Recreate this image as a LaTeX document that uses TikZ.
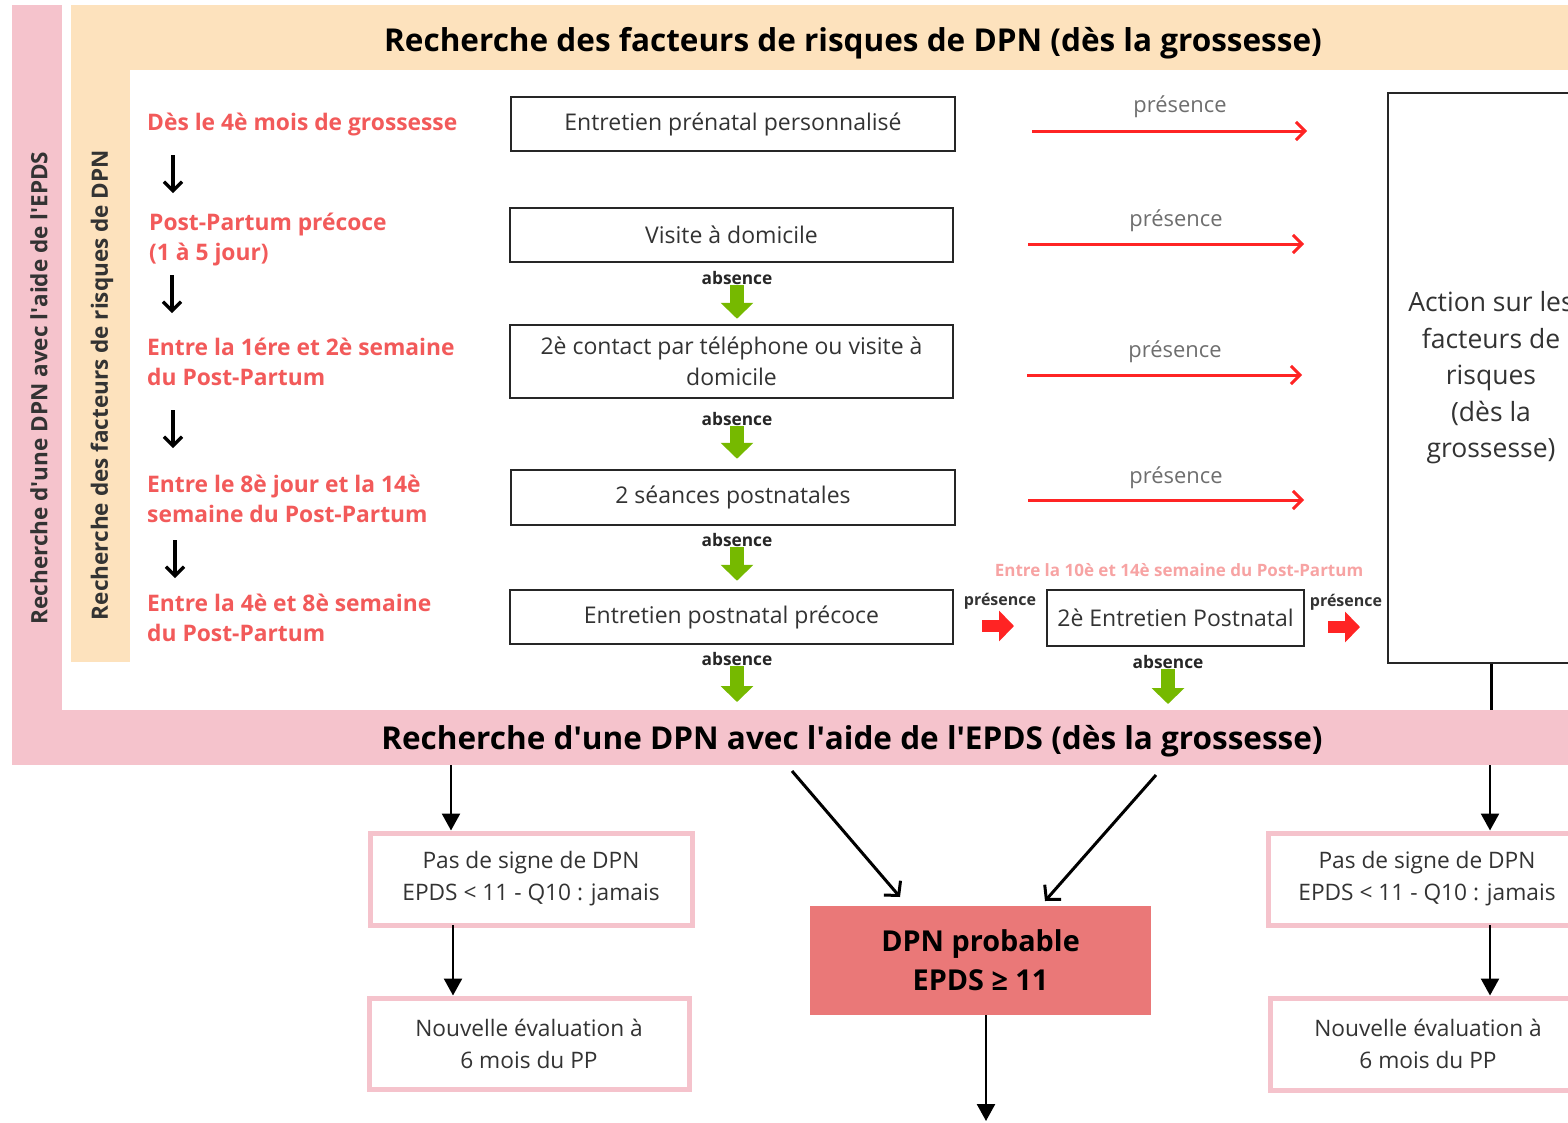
\documentclass[tikz,border=0pt]{standalone}
\usepackage{fontspec}
\setmainfont{Open Sans}
\usetikzlibrary{arrows.meta}
\definecolor{pinkbg}{HTML}{F5C3CC}
\definecolor{peach}{HTML}{FDE2BD}
\definecolor{redtxt}{HTML}{F25A5A}
\definecolor{lightred}{HTML}{F7A3A3}
\definecolor{arrred}{HTML}{FF2424}
\definecolor{grn}{HTML}{76B900}
\definecolor{dpnfill}{HTML}{EA7878}
\definecolor{graytxt}{HTML}{6E6E6E}
\definecolor{boxtxt}{HTML}{333333}
\newcommand\apos{\textquotesingle}
\begin{document}
\begin{tikzpicture}[x=1pt,y=-1pt,
  titletxt/.style={font=\fontsize{31.5}{36}\selectfont\bfseries, text=black, inner sep=0},
  verttxt/.style={font=\fontsize{22.5}{26}\selectfont\bfseries, text=boxtxt, inner sep=0, rotate=90},
  redlab/.style={font=\fontsize{22.8}{30}\selectfont\bfseries, text=redtxt, anchor=west, align=left, inner sep=0},
  stepbox/.style={draw=black!85, line width=2.5pt, fill=white, font=\fontsize{23}{31}\selectfont, text=boxtxt, align=center, inner sep=0},
  pinkbox/.style={draw=pinkbg, line width=5pt, fill=white, font=\fontsize{22.7}{32}\selectfont, text=boxtxt, align=center, inner sep=0},
  abslab/.style={font=\fontsize{17.3}{20}\selectfont\bfseries, text=black!85, inner sep=0},
  preslab/.style={font=\fontsize{21.9}{25}\selectfont, text=graytxt, inner sep=0},
  presbold/.style={font=\fontsize{16}{19}\selectfont\bfseries, text=black!80, inner sep=0},
  greenarr/.style={draw=grn, line width=14pt, -{Triangle[width=32pt,length=16pt]}},
  redblock/.style={draw=arrred, line width=12pt, -{Triangle[width=30pt,length=15pt]}},
  redline/.style={draw=arrred, line width=3pt, -{Straight Barb[length=9pt,width=18pt]}},
  leftarr/.style={draw=black, line width=3.2pt, -{Straight Barb[length=9pt,width=18pt]}},
  blkarr/.style={draw=black, line width=2.5pt, -{Triangle[length=17pt,width=18pt]}},
  diagarr/.style={draw=black, line width=3pt, -{Straight Barb[length=10pt,width=22pt]}}
]
\useasboundingbox (0,0) rectangle (1568,1122);
\clip (0,0) rectangle (1568,1122);

% backgrounds
\fill[pinkbg] (12,5) rectangle (62,765);
\fill[pinkbg] (12,710) rectangle (1568,765);
\fill[peach] (71,5) rectangle (1568,70);
\fill[peach] (71,70) rectangle (130,662);
\coordinate (bandtop) at (0,710);
\coordinate (bandbot) at (0,765);

% titles
\node[titletxt] (T1) at (853,43) {Recherche des facteurs de risques de DPN (dès la grossesse)};
\node[titletxt] (T2) at (852,741) {Recherche d\apos une DPN avec l\apos aide de l\apos EPDS (dès la grossesse)};
\node[verttxt] (V1) at (39,388) {Recherche d\apos une DPN avec l\apos aide de l\apos EPDS};
\node[verttxt] (V2) at (102,385) {Recherche des facteurs de risques de DPN};

% red timeline labels
\node[redlab] (L1) at (147,125) {Dès le 4è mois de grossesse};
\node[redlab] (L2) at (149,239) {Post-Partum précoce\\(1 à 5 jour)};
\node[redlab] (L3) at (147,362) {Entre la 1ére et 2è semaine\\du Post-Partum};
\node[redlab] (L4) at (147,499) {Entre le 8è jour et la 14è\\semaine du Post-Partum};
\node[redlab] (L5) at (147,618) {Entre la 4è et 8è semaine\\du Post-Partum};
\coordinate (la1) at (173,155); \coordinate (lb1) at (173,193);
\coordinate (la2) at (172,275); \coordinate (lb2) at (172,313);
\coordinate (la3) at (173,410); \coordinate (lb3) at (173,448);
\coordinate (la4) at (175,540); \coordinate (lb4) at (175,578);
\draw[leftarr] (la1) -- (lb1);
\draw[leftarr] (la2) -- (lb2);
\draw[leftarr] (la3) -- (lb3);
\draw[leftarr] (la4) -- (lb4);

% step boxes
\node[stepbox, minimum width=444pt, minimum height=54pt] (B1) at (733,124) {Entretien prénatal personnalisé};
\node[stepbox, minimum width=443pt, minimum height=54pt] (B2) at (731.5,235) {Visite à domicile};
\node[stepbox, minimum width=443pt, minimum height=73pt] (B3) at (731.5,361.5) {2è contact par téléphone ou visite à\\domicile};
\node[stepbox, minimum width=444pt, minimum height=55pt] (B4) at (733,497.5) {2 séances postnatales};
\node[stepbox, minimum width=443pt, minimum height=54pt] (B5) at (731.5,617) {Entretien postnatal précoce};
\node[stepbox, minimum width=257pt, minimum height=56pt] (B6) at (1175.5,618) {2è Entretien Postnatal};
\node[stepbox, minimum width=206pt, minimum height=570pt, font=\fontsize{26.5}{36.5}\selectfont] (Act) at (1491,378) {Action sur les\\facteurs de\\risques\\(dès la\\grossesse)};

% absence labels and green arrows
\node[abslab] (ab1) at (737,278) {absence};
\node[abslab] (ab2) at (737,419) {absence};
\node[abslab] (ab3) at (737,540) {absence};
\node[abslab] (ab4) at (737,659) {absence};
\node[abslab] (ab5) at (1168,662) {absence};
\draw[greenarr, shorten <=0pt, shorten >=5pt] (ab1.south) -- (ab1.south |- B3.north);
\draw[greenarr, shorten <=0pt, shorten >=10pt] (ab2.south) -- (ab2.south |- B4.north);
\draw[greenarr, shorten <=0pt, shorten >=8pt] (ab3.south) -- (ab3.south |- B5.north);
\draw[greenarr, shorten <=0pt, shorten >=8pt] (ab4.south) -- (ab4.south |- bandtop);
\draw[greenarr, shorten <=0pt, shorten >=6pt] (ab5.south) -- (ab5.south |- bandtop);

% presence arrows
\coordinate (r1a) at (1032,131); \coordinate (r1b) at (1307,131);
\coordinate (r2a) at (1028,244); \coordinate (r2b) at (1304,244);
\coordinate (r3a) at (1027,375); \coordinate (r3b) at (1302,375);
\coordinate (r4a) at (1028,500); \coordinate (r4b) at (1304,500);
\draw[redline] (r1a) -- (r1b);
\draw[redline] (r2a) -- (r2b);
\draw[redline] (r3a) -- (r3b);
\draw[redline] (r4a) -- (r4b);
\node[preslab] (p1) at (1180,107) {présence};
\node[preslab] (p2) at (1176,221) {présence};
\node[preslab] (p3) at (1175,352) {présence};
\node[preslab] (p4) at (1176,478) {présence};

\node[font=\fontsize{17}{20}\selectfont\bfseries, text=lightred, inner sep=0] (L6) at (1179,570) {Entre la 10è et 14è semaine du Post-Partum};
\node[presbold] (p5) at (1000,601) {présence};
\node[presbold] (p6) at (1346,602) {présence};
\coordinate (r5a) at (982,626); \coordinate (r5b) at (1014,626);
\coordinate (r6a) at (1328,627); \coordinate (r6b) at (1360,627);
\draw[redblock] (r5a) -- (r5b);
\draw[redblock] (r6a) -- (r6b);

% action to band
\draw[line width=3pt] (Act.south) -- (Act.south |- bandtop);

% lower part
\node[pinkbox, minimum width=322pt, minimum height=92pt] (P1) at (531,879) {Pas de signe de DPN\\EPDS < 11 - Q10 : jamais};
\node[pinkbox, minimum width=320pt, minimum height=91pt] (P2) at (529,1043.5) {Nouvelle évaluation à\\6 mois du PP};
\node[pinkbox, minimum width=318pt, minimum height=92pt] (P3) at (1427,879) {Pas de signe de DPN\\EPDS < 11 - Q10 : jamais};
\node[pinkbox, minimum width=316pt, minimum height=92pt] (P4) at (1428,1044) {Nouvelle évaluation à\\6 mois du PP};
\node[fill=dpnfill, minimum width=341pt, minimum height=109pt, font=\fontsize{28.8}{39}\selectfont\bfseries, align=center, inner sep=0] (DPN) at (980.5,960.5) {DPN probable\\EPDS ≥ 11};

\coordinate (d1) at (451,765);
\coordinate (d2) at (1490,765);
\coordinate (d3) at (453,925);
\coordinate (d4) at (1490,925);
\draw[blkarr] (d1) -- (d1 |- P1.north);
\draw[blkarr] (d2) -- (d2 |- P3.north);
\draw[blkarr] (d3) -- (d3 |- P2.north);
\draw[blkarr] (d4) -- (d4 |- P4.north);

\coordinate (g1) at (792,771); \coordinate (g1e) at (900,897);
\coordinate (g2) at (1156,775); \coordinate (g2e) at (1045,901);
\draw[diagarr] (g1) -- (g1e);
\draw[diagarr] (g2) -- (g2e);
\coordinate (dend) at (986,1121);
\draw[blkarr] (DPN.south -| dend) -- (dend);
\end{tikzpicture}
\end{document}
